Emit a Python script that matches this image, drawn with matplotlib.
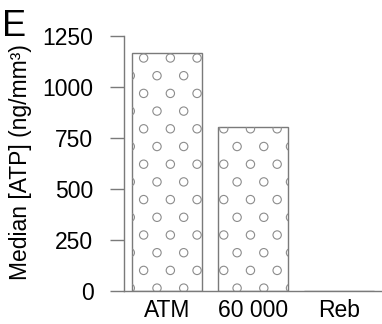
import numpy as np
import matplotlib
matplotlib.use("Agg")
import matplotlib.pyplot as plt
from matplotlib.transforms import IdentityTransform

plt.rcParams['font.family'] = ['Liberation Sans', 'DejaVu Sans']

categories = ["ATM", "60 000", "Reb"]
median_atp = [1165, 805, 0]
y_ticks = [0, 250, 500, 750, 1000, 1250]

W, H, DPI = 382, 324, 100
fig = plt.figure(figsize=(W / DPI, H / DPI), dpi=DPI)
ax = fig.add_axes([124 / W, 1 - 291 / H, 258 / W, (291 - 36) / H])

line_col = "#7a7a7a"
x = np.arange(len(categories))
bars = ax.bar(x, median_atp, width=0.82, facecolor="white",
              edgecolor=line_col, linewidth=1.0, zorder=2)

ax.set_xlim(-0.5, len(categories) - 0.5)
ax.set_ylim(0, 1250)
ax.set_yticks(y_ticks)
ax.set_xticks(x)
ax.set_xticklabels(categories)

for side in ("top", "right"):
    ax.spines[side].set_visible(False)
for side in ("left", "bottom"):
    ax.spines[side].set_color(line_col)
    ax.spines[side].set_linewidth(1.0)

ax.tick_params(axis="y", direction="out", length=10, width=1.0,
               color=line_col, labelsize=16.5, pad=12)
ax.tick_params(axis="x", length=0, labelsize=16.5, pad=6)

fig.text(21 / W, 1 - 162 / H, "Median [ATP] (ng/mm³)", rotation=90,
         ha="center", va="center", fontsize=16.5)
fig.text(2 / W, 1 - 9 / H, "E", ha="left", va="top", fontsize=26)

# dotted-circle fill: staggered grid laid out in pixel space, clipped to bars
dx, dy = 26.7, 17.7
row0_y, row0_x = H - 75.7, 23.5
ys = np.arange(row0_y % dy - dy, H + dy, dy)
px, py = [], []
for yy in ys:
    k = int(round((yy - row0_y) / dy))
    off = row0_x if k % 2 == 0 else row0_x - dx / 2
    xs = np.arange(off % dx - dx, W + dx, dx)
    px.extend(xs)
    py.extend([yy] * len(xs))

for bar in bars:
    if bar.get_height() <= 0:
        continue
    sc = ax.scatter(px, py, s=36, marker="o", facecolors="none",
                    edgecolors="#8c8c8c", linewidths=0.8,
                    transform=IdentityTransform(), zorder=3)
    sc.set_clip_path(bar)

fig.savefig("out.png", dpi=DPI)
